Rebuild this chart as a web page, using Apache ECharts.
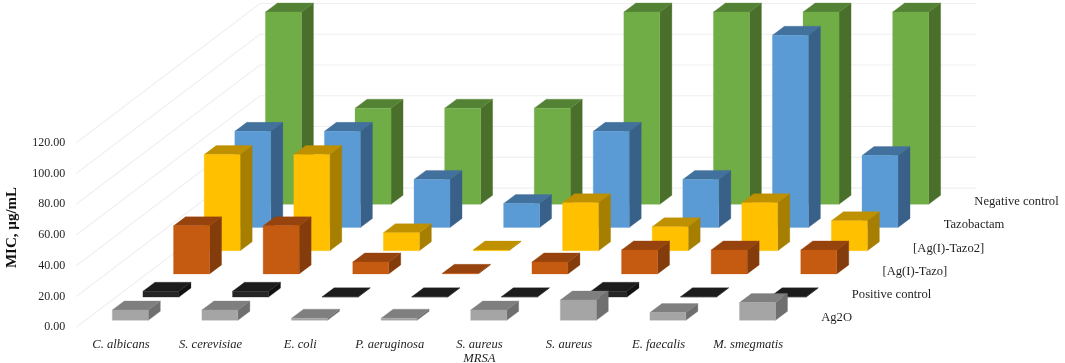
<!DOCTYPE html>
<html><head><meta charset="utf-8">
<style>html,body{margin:0;padding:0;background:#fff}#c{width:1065px;height:363px}</style>
<script src="https://cdn.jsdelivr.net/npm/echarts@6/dist/echarts.min.js"></script>
</head><body><div id="c"></div>
<script>
const categories = ['C. albicans','S. cerevisiae','E. coli','P. aeruginosa','S. aureus\nMRSA','S. aureus','E. faecalis','M. smegmatis'];
const yTicks = [0,20,40,60,80,100,120];
const rowNames = ['Ag2O','Positive control','[Ag(I)-Tazo]','[Ag(I)-Tazo2]','Tazobactam','Negative control'];
const ag2o     = [6.7,6.7,1.4,1.4,6.7,13.2,5,11.5];
const positive = [3.8,3.8,0.2,0.2,0.2,3.8,0.2,0.2];
const agTazo   = [31.25,31.25,7.8,0.4,7.8,15.6,15.6,15.6];
const agTazo2  = [62.5,62.5,11.7,0.4,31.25,15.6,31.25,19.5];
const tazobactam = [62.5,62.5,31.25,15.6,62.5,31.25,125,46.8];
const negative = [125,62.5,62.5,62.5,125,125,125,125];
const rows = [ag2o,positive,agTazo,agTazo2,tazobactam,negative];
const palette = [
  {front:'#A5A5A5',top:'#7F7F7F',side:'#6F6F6F'},
  {front:'#262626',top:'#1C1C1C',side:'#111111'},
  {front:'#C55A11',top:'#97430D',side:'#843C0C'},
  {front:'#FFC000',top:'#BF9000',side:'#A67E00'},
  {front:'#5B9BD5',top:'#41719C',side:'#386088'},
  {front:'#70AD47',top:'#548235',side:'#496F2A'}
];
const DX=30.63, DY=-23.2, BAR=36, OX=12, OY=-9, FX=-8.7, FY=-7;
const FONT='"Liberation Serif","Times New Roman",serif';

function poly(pts,fill){return {type:'polygon',shape:{points:pts},style:{fill:fill,stroke:fill,lineWidth:0.3}};}

function barSeries(r){
  const c=palette[r];
  return {type:'custom',name:rowNames[r],coordinateSystem:'cartesian2d',clip:false,silent:true,z:10+(5-r),
    data:rows[r].map((v,i)=>[i,v]),encode:{x:0,y:1},
    renderItem(p,api){
      const b=api.coord([api.value(0),0]), t=api.coord([api.value(0),api.value(1)]);
      const x=b[0]+FX+r*DX, y0=b[1]+FY+r*DY, y1=y0-(b[1]-t[1]);
      return {type:'group',children:[
        poly([[x+BAR,y0],[x+BAR+OX,y0+OY],[x+BAR+OX,y1+OY],[x+BAR,y1]],c.side),
        poly([[x,y1],[x+BAR,y1],[x+BAR+OX,y1+OY],[x+OX,y1+OY]],c.top),
        poly([[x,y0],[x+BAR,y0],[x+BAR,y1],[x,y1]],c.front)
      ]};
    }};
}
const wallSeries={type:'custom',name:'walls',coordinateSystem:'cartesian2d',clip:false,silent:true,z:1,
  data:yTicks.map(v=>[0,v]),encode:{x:0,y:1},
  renderItem(p,api){
    const q=api.coord([0,api.value(1)]), s=api.size([1,0]);
    const x0=q[0]-s[0]/2, y0=q[1], x1=x0+6*DX, y1=y0+6*DY, x2=x0+s[0]*8+183;
    const st={stroke:'#F0F0F0',lineWidth:1.1,fill:null};
    return {type:'group',children:[
      {type:'polyline',shape:{points:[[x0,y0],[x1,y1],[x2,y1]]},style:st}
    ]};
  }};
const rowLabelSeries={type:'custom',name:'rowLabels',coordinateSystem:'cartesian2d',clip:false,silent:true,z:30,
  data:rowNames.map((n,i)=>[7,0,i,n]),encode:{x:0,y:1},
  renderItem(p,api){
    const b=api.coord([7,0]), i=api.value(2);
    return {type:'text',style:{x:b[0]+73+i*DX,y:b[1]-9.5+i*DY,text:rowNames[i],font:'12.6px '+FONT,fill:'#1f1f1f',align:'left',verticalAlign:'middle'}};
  }};
const series=[wallSeries].concat([5,4,3,2,1,0].map(barSeries),[rowLabelSeries]);
const chart=echarts.init(document.getElementById('c'),null,{renderer:'canvas'});
chart.setOption({
  animation:false,backgroundColor:'#fff',
  grid:{left:76.2,top:142.7,width:716.8,height:184.6,containLabel:false,outerBoundsMode:'none'},
  xAxis:{type:'category',data:categories,axisLine:{show:false},axisTick:{show:false},splitLine:{show:false},
    axisLabel:{interval:0,margin:10,fontFamily:FONT,fontStyle:'italic',fontSize:12.6,lineHeight:14,color:'#1f1f1f',align:'center'}},
  yAxis:{type:'value',min:0,max:120,interval:20,name:'MIC, µg/mL',nameLocation:'middle',nameGap:57,
    nameTextStyle:{fontFamily:FONT,fontWeight:'bold',fontSize:15,color:'#111',padding:[0,0,0,15]},
    axisLine:{show:false},axisTick:{show:false},splitLine:{show:false},
    axisLabel:{margin:11,fontFamily:FONT,fontSize:12,color:'#1f1f1f',padding:[4,0,0,0],formatter:v=>v.toFixed(2)}},
  series:series
});
</script></body></html>
